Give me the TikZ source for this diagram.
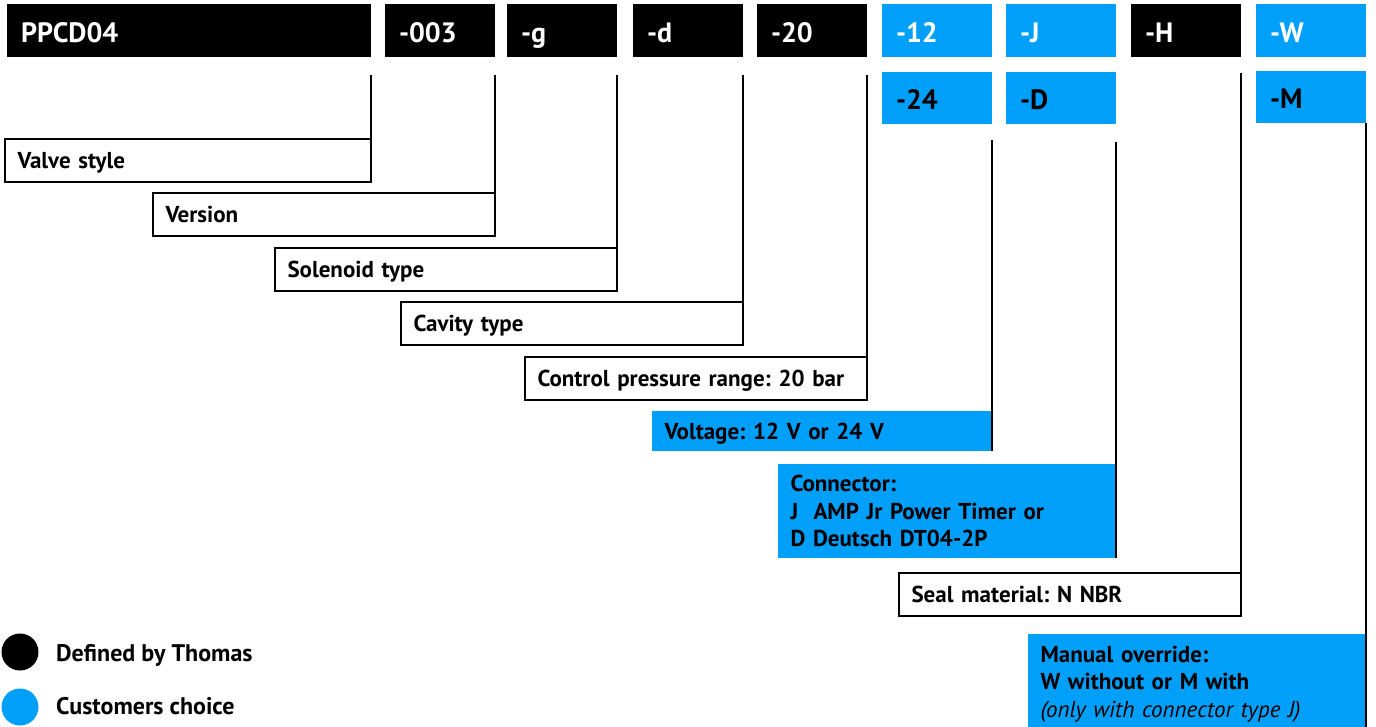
\documentclass[tikz,border=0pt]{standalone}
\usepackage{fontspec}
\setmainfont{PT Sans}
\definecolor{tblue}{RGB}{0,159,250}
\newcommand\hdrfont{\fontsize{28}{32}\selectfont\bfseries\frenchspacing}
\newcommand\lblfont{\fontsize{23}{27.5}\selectfont\bfseries\frenchspacing}
\newcommand\legfont{\fontsize{24}{28}\selectfont\bfseries\frenchspacing}
\tikzset{
  hdr/.style={anchor=north west, inner xsep=14pt, inner ysep=0pt, outer sep=0pt,
    minimum height=53pt, align=left, font=\hdrfont, text width=82pt,
    text height=25pt, text depth=2pt},
  hdrk/.style={hdr, fill=black, text=white},
  hdrb/.style={hdr, fill=tblue, text=white},
  hdrc/.style={hdr, fill=tblue, text=black, minimum height=52pt},
  lbl/.style={anchor=north west, inner xsep=12.5pt, inner ysep=0pt, outer sep=0pt,
    align=left, font=\lblfont, text width=317pt, minimum height=43pt},
  one/.style={text height=19pt, text depth=3pt},
  lboxw/.style={lbl, one, draw=black, line width=2pt, fill=white},
  lboxb/.style={lbl, fill=tblue},
  conn/.style={line width=2pt},
  legdot/.style={circle, inner sep=0pt, outer sep=0pt, minimum size=37pt},
  legtxt/.style={anchor=base west, inner sep=0pt, font=\legfont},
}
\begin{document}
\begin{tikzpicture}[x=1pt,y=-1pt]
\useasboundingbox (0,0) rectangle (1376,726);
% header row
\node[hdrk, text width=336pt] (p1) at (7,4) {PPCD04};
\node[hdrk] (p2) at (385,4) {-003};
\node[hdrk] (p3) at (507,4) {-g};
\node[hdrk] (p4) at (633,4) {-d};
\node[hdrk] (p5) at (757,4) {-20};
\node[hdrb] (p6) at (882,4) {-12};
\node[hdrb] (p7) at (1006,4) {-J};
\node[hdrk] (p8) at (1131,4) {-H};
\node[hdrb] (p9) at (1256,4) {-W};
% second row
\node[hdrc] (q6) at (882,72) {-24};
\node[hdrc] (q7) at (1006,72) {-D};
\node[hdrc] (q9) at (1256,71) {-M};
% label boxes
\node[lboxw, text width=341pt] (vs) at (5,139) {Valve style};
\node[lboxw] (ver) at (153,193) {Version};
\node[lboxw] (sol) at (275,248) {Solenoid type};
\node[lboxw] (cav) at (401,302) {Cavity type};
\node[lboxw] (cpr) at (525,357) {Control pressure range: 20 bar};
\node[lboxb, one, text width=315pt, minimum height=40pt] (volt) at (652,411) {Voltage: 12 V or 24 V};
\node[lboxb, text width=313pt, minimum height=94pt] (con) at (778,464)
  {Connector:\\J\ \ AMP Jr Power Timer or\\D Deutsch DT04-2P};
\node[lboxw, text width=317pt] (seal) at (899,573) {Seal material: N NBR};
\node[lboxb, text width=313pt, minimum height=100pt] (man) at (1028,634)
  {Manual override:\\W without or M with\\{\mdseries\itshape (only with connector type J)}};
% connector tops
\coordinate (t1) at (371,75);
\coordinate (t2) at (495,75);
\coordinate (t3) at (617,75);
\coordinate (t4) at (743,75);
\coordinate (t5) at (867,75);
\coordinate (t6) at (992,140);
\coordinate (t7) at (1116,142);
\coordinate (t8) at (1241,73);
\draw[conn] (t1) -- (vs.north east);
\draw[conn] (t2) -- (ver.north east);
\draw[conn] (t3) -- (sol.north east);
\draw[conn] (t4) -- (cav.north east);
\draw[conn] (t5) -- (cpr.north east);
\draw[conn] (t6) -- (volt.south east);
\draw[conn] (t7) -- (con.south east);
\draw[conn] (t8) -- (seal.north east);
\draw[conn] (q9.south east) -- (man.south east);
% legend
\node[legdot, fill=black] (lk) at (20,652) {};
\node[legtxt] (lkt) at (56,661) {Defined by Thomas};
\node[legdot, fill=tblue] (lb) at (20,707) {};
\node[legtxt] (lbt) at (56,714) {Customers choice};
\end{tikzpicture}
\end{document}
